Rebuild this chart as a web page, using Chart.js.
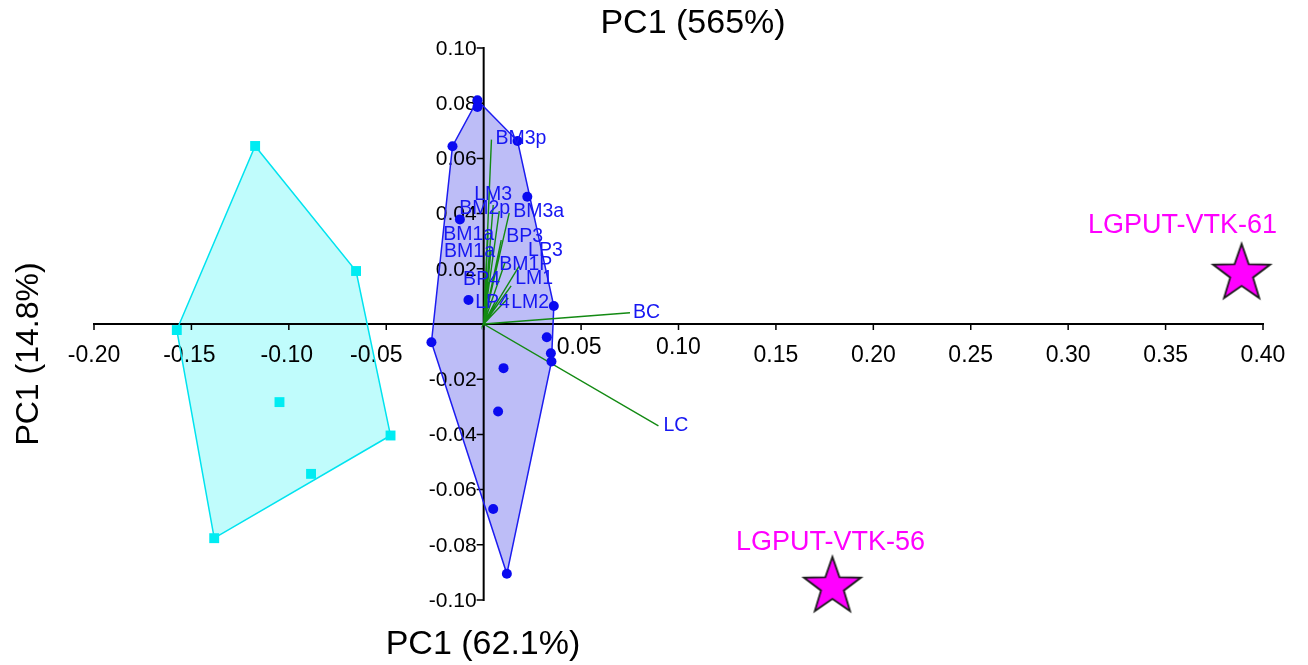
<!DOCTYPE html>
<html>
<head>
<meta charset="utf-8">
<script src="https://cdn.jsdelivr.net/npm/chart.js@4.4.0/dist/chart.umd.min.js"></script>
<style>
  html, body { margin: 0; padding: 0; background: #ffffff; }
  #wrap { width: 1308px; height: 665px; position: relative; }
</style>
</head>
<body>
<div id="wrap"><canvas id="pca"></canvas></div>
<script>
// ---- Scores: group A (blue circles) ----
const groupAX = [-0.0032, -0.0032, -0.0160, 0.0174, 0.0224, -0.0122, -0.0078, 0.0360,
                 -0.0268, 0.0324, 0.0345, 0.0348, 0.0102, 0.0074, 0.0049, 0.0119];
const groupAY = [0.0811, 0.0786, 0.0644, 0.0663, 0.0461, 0.0379, 0.0087, 0.0065,
                 -0.0066, -0.0048, -0.0106, -0.0136, -0.0160, -0.0317, -0.0670, -0.0905];

// ---- Scores: group B (cyan squares) ----
const groupBX = [-0.1173, -0.0655, -0.1575, -0.1048, -0.0478, -0.0886, -0.1383];
const groupBY = [0.0645, 0.0192, -0.0022, -0.0283, -0.0404, -0.0543, -0.0776];

// ---- Distinct accessions (stars) ----
const outlierNames = ['LGPUT-VTK-61', 'LGPUT-VTK-56'];
const outlierX = [0.3890, 0.1790];
const outlierY = [0.0182, -0.0952];

// ---- Variable loadings (vectors from the origin) ----
const loadingNames = ['BM3p', 'LM3', 'BM2p', 'BM3a', 'BM1a', 'BM1a', 'BP3', 'LP3',
                      'BM1P', 'BP4', 'LM1', 'LP4', 'LM2', 'BC', 'LC'];
const loadingX = [0.0040, 0.0049, 0.0080, 0.0131, 0.0023, 0.0038, 0.0090, 0.0110,
                  0.0182, 0.0028, 0.0141, 0.0059, 0.0126, 0.0751, 0.0897];
const loadingY = [0.0668, 0.0431, 0.0409, 0.0402, 0.0333, 0.0268, 0.0304, 0.0224,
                  0.0210, 0.0152, 0.0138, 0.0080, 0.0094, 0.0041, -0.0369];

// ---- Axes ----
const xTickValues = [-0.20, -0.15, -0.10, -0.05, 0, 0.05, 0.10, 0.15, 0.20, 0.25, 0.30, 0.35, 0.40];
const xTickLabels = ['-0.20', '-0.15', '-0.10', '-0.05', '', '0.05', '0.10', '0.15', '0.20', '0.25', '0.30', '0.35', '0.40'];
const yTickValues = [0.10, 0.08, 0.06, 0.04, 0.02, 0, -0.02, -0.04, -0.06, -0.08, -0.10];
const yTickLabels = ['0.10', '0.08', '0.06', '0.04', '0.02', '', '-0.02', '-0.04', '-0.06', '-0.08', '-0.10'];
const topTitle = 'PC1 (565%)';
const bottomTitle = 'PC1 (62.1%)';
const leftTitle = 'PC1 (14.8%)';

// ---- Label placement (pixel nudges, styling only) ----
const loadingLabelShift = [[4, -1], [-19, -10], [-40, -2], [4, -1], [-45, 3], [-47, 2], [5, -3], [23, -12],
                           [-20, -1], [-26, -2], [4, -7], [-20, 1], [3, 5], [3, 0], [5, 0]];
const outlierLabelShift = [[-59, -41], [-2, -37]];
const xLabelShift = [[0, 0], [-2, 0], [-2, 0], [-10, 0], [0, 0], [-2, -8], [0, -8], [0, 0], [0, 0], [0, 0], [0, 0], [0, 0], [0, 0]];

const FONT = 'Arial, "Liberation Sans", Helvetica, sans-serif';

// Convex hull (monotone chain) of a point set, returned closed
function convexHull(xs, ys) {
  const pts = xs.map((x, i) => ({ x, y: ys[i] })).sort((a, b) => a.x - b.x || a.y - b.y);
  const cross = (o, a, b) => (a.x - o.x) * (b.y - o.y) - (a.y - o.y) * (b.x - o.x);
  const lower = [], upper = [];
  for (const p of pts) {
    while (lower.length >= 2 && cross(lower[lower.length - 2], lower[lower.length - 1], p) <= 0) lower.pop();
    lower.push(p);
  }
  for (let i = pts.length - 1; i >= 0; i--) {
    const p = pts[i];
    while (upper.length >= 2 && cross(upper[upper.length - 2], upper[upper.length - 1], p) <= 0) upper.pop();
    upper.push(p);
  }
  const hull = lower.slice(0, -1).concat(upper.slice(0, -1));
  hull.push(hull[0]);
  return hull;
}

// Five-pointed star marker with a dark outline
function makeStar(R, fill, stroke) {
  const size = Math.ceil(2 * R + 6);
  const c = document.createElement('canvas');
  c.width = size; c.height = size;
  const g = c.getContext('2d');
  const cx = size / 2, cy = size / 2, r = R * 0.4;
  g.beginPath();
  for (let k = 0; k < 10; k++) {
    const rad = k % 2 ? r : R;
    const a = -Math.PI / 2 + k * Math.PI / 5;
    const px = cx + rad * Math.cos(a), py = cy + rad * Math.sin(a);
    if (k) g.lineTo(px, py); else g.moveTo(px, py);
  }
  g.closePath();
  g.fillStyle = fill; g.fill();
  g.lineJoin = 'miter'; g.lineWidth = 1.8; g.strokeStyle = stroke; g.stroke();
  return c;
}

const toPoints = (xs, ys) => xs.map((x, i) => ({ x, y: ys[i] }));
const vectorPath = [];
loadingX.forEach((x, i) => { vectorPath.push({ x: 0, y: 0 }); vectorPath.push({ x, y: loadingY[i] }); });

const hullA = convexHull(groupAX, groupAY);
const hullB = convexHull(groupBX, groupBY);
const HULL_A = 0, HULL_B = 1;
const hullFills = [[HULL_A, '#bdbdf7'], [HULL_B, '#c0fcfc']];

const decor = {
  id: 'pcaDecor',
  beforeDatasetsDraw(chart) {
    const ctx = chart.ctx;
    const xs = chart.scales.x, ys = chart.scales.y;
    // Hull interiors, traced through the outline datasets' points
    hullFills.forEach(([idx, col]) => {
      const pts = chart.getDatasetMeta(idx).data;
      ctx.save();
      ctx.beginPath();
      pts.forEach((p, k) => { if (k) ctx.lineTo(p.x, p.y); else ctx.moveTo(p.x, p.y); });
      ctx.closePath();
      ctx.fillStyle = col;
      ctx.fill();
      ctx.restore();
    });
    // Crossing axes through the origin
    const x0 = xs.getPixelForValue(0), y0 = ys.getPixelForValue(0);
    ctx.save();
    ctx.strokeStyle = '#000';
    ctx.lineWidth = 2;
    ctx.beginPath();
    ctx.moveTo(xs.getPixelForValue(xTickValues[0]) - 1, y0);
    ctx.lineTo(xs.getPixelForValue(xTickValues[xTickValues.length - 1]) + 1, y0);
    ctx.moveTo(x0, ys.getPixelForValue(yTickValues[0]) - 1);
    ctx.lineTo(x0, ys.getPixelForValue(yTickValues[yTickValues.length - 1]) + 1);
    ctx.stroke();
    ctx.lineWidth = 1.5;
    ctx.beginPath();
    xTickValues.forEach(v => { const px = xs.getPixelForValue(v); ctx.moveTo(px, y0); ctx.lineTo(px, y0 + 6); });
    yTickValues.forEach(v => { const py = ys.getPixelForValue(v); ctx.moveTo(x0, py); ctx.lineTo(x0 - 7, py); });
    ctx.stroke();
    // Tick labels
    ctx.fillStyle = '#000';
    ctx.font = '23px ' + FONT;
    ctx.textAlign = 'center';
    ctx.textBaseline = 'middle';
    xTickValues.forEach((v, i) => {
      const s = xLabelShift[i];
      ctx.fillText(xTickLabels[i], xs.getPixelForValue(v) + s[0], y0 + 32 + s[1]);
    });
    ctx.font = '21px ' + FONT;
    ctx.textAlign = 'right';
    yTickValues.forEach((v, i) => {
      ctx.fillText(yTickLabels[i], x0 - 7, ys.getPixelForValue(v) + 1);
    });
    ctx.restore();
  },
  afterDatasetsDraw(chart) {
    const ctx = chart.ctx;
    const xs = chart.scales.x, ys = chart.scales.y;
    ctx.save();
    // Loading names
    ctx.fillStyle = '#1717f2';
    ctx.font = '19.5px ' + FONT;
    ctx.textAlign = 'left';
    ctx.textBaseline = 'middle';
    loadingNames.forEach((n, i) => {
      const s = loadingLabelShift[i];
      ctx.fillText(n, xs.getPixelForValue(loadingX[i]) + s[0], ys.getPixelForValue(loadingY[i]) + s[1]);
    });
    // Accession names
    ctx.fillStyle = '#ff00ff';
    ctx.font = '27px ' + FONT;
    ctx.textAlign = 'center';
    ctx.textBaseline = 'alphabetic';
    outlierNames.forEach((n, i) => {
      const s = outlierLabelShift[i];
      ctx.fillText(n, xs.getPixelForValue(outlierX[i]) + s[0], ys.getPixelForValue(outlierY[i]) + s[1]);
    });
    // Axis titles
    ctx.fillStyle = '#000';
    ctx.font = '34px ' + FONT;
    ctx.fillText(topTitle, 693, 33);
    ctx.font = '34px ' + FONT;
    ctx.fillText(bottomTitle, 483, 654);
    ctx.translate(29, 354);
    ctx.rotate(-Math.PI / 2);
    ctx.font = '32px ' + FONT;
    ctx.textBaseline = 'middle';
    ctx.fillText(leftTitle, 0, 0);
    ctx.restore();
  }
};

const starImg = makeStar(30, '#ff00ff', '#1a1a1a');

new Chart(document.getElementById('pca'), {
  type: 'scatter',
  data: {
    datasets: [
      { label: 'Group A hull', data: hullA, showLine: true, borderColor: '#1c1cf0', borderWidth: 1.5,
        pointRadius: 0, fill: false, clip: false, order: 6 },
      { label: 'Group B hull', data: hullB, showLine: true, borderColor: '#00e3ef', borderWidth: 1.5,
        pointRadius: 0, fill: false, clip: false, order: 5 },
      { label: 'Loadings', data: vectorPath, showLine: true, borderColor: '#138a13', borderWidth: 1.4,
        pointRadius: 0, fill: false, clip: false, order: 4 },
      { label: 'Group B', data: toPoints(groupBX, groupBY), pointStyle: 'rect', pointRadius: 7,
        backgroundColor: '#00ecf2', borderWidth: 0, clip: false, order: 3 },
      { label: 'Group A', data: toPoints(groupAX, groupAY), pointStyle: 'circle', pointRadius: 5,
        backgroundColor: '#0a0af0', borderWidth: 0, clip: false, order: 2 },
      { label: 'Accessions', data: toPoints(outlierX, outlierY), pointStyle: starImg, pointRadius: 30,
        clip: false, order: 1 }
    ]
  },
  options: {
    responsive: true,
    maintainAspectRatio: false,
    animation: false,
    events: [],
    layout: { padding: { left: 94, right: 45, top: 48, bottom: 65 } },
    plugins: { legend: { display: false }, tooltip: { enabled: false }, title: { display: false } },
    scales: {
      x: { type: 'linear', min: -0.20, max: 0.40, display: false },
      y: { type: 'linear', min: -0.10, max: 0.10, display: false }
    }
  },
  plugins: [decor]
});
</script>
</body>
</html>
